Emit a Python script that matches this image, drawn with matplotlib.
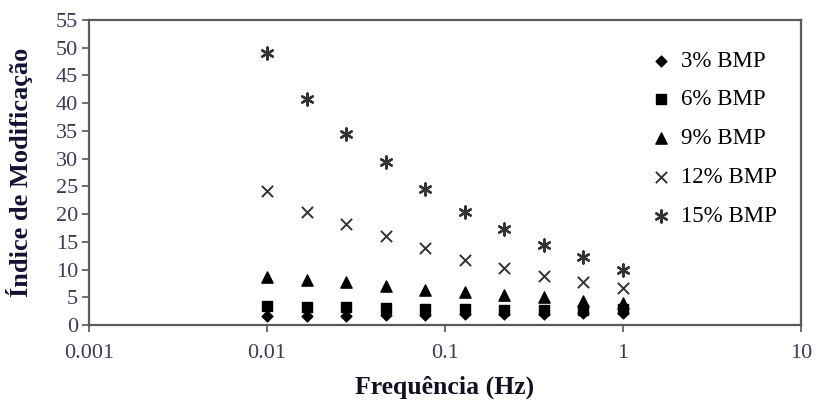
import numpy as np
import matplotlib.pyplot as plt
from matplotlib.ticker import FixedLocator, NullLocator, FuncFormatter

# frequency sweep (Hz)
freq = [0.01, 0.0167, 0.0278, 0.0464, 0.0774, 0.129, 0.215, 0.359, 0.599, 1.0]

bmp3 = [1.6, 1.7, 1.7, 1.8, 1.8, 1.9, 1.9, 2.0, 2.1, 2.2]
bmp6 = [3.5, 3.3, 3.2, 3.0, 2.9, 2.8, 2.7, 2.7, 2.7, 2.8]
bmp9 = [8.6, 8.1, 7.7, 7.0, 6.4, 6.0, 5.4, 5.0, 4.4, 4.0]
bmp12 = [24.2, 20.4, 18.2, 16.0, 13.8, 11.8, 10.3, 8.9, 7.7, 6.6]
bmp15 = [49.1, 40.7, 34.4, 29.4, 24.6, 20.3, 17.4, 14.4, 12.3, 10.0]

labels = ['3% BMP', '6% BMP', '9% BMP', '12% BMP', '15% BMP']
xticks = [0.001, 0.01, 0.1, 1, 10]
xtick_labels = ['0.001', '0.01', '0.1', '1', '10']

plt.rcParams['font.family'] = ['Liberation Serif', 'DejaVu Serif']

fig = plt.figure(figsize=(8.19, 4.04), dpi=100)
ax = fig.add_axes([89 / 819, 1 - 325 / 404, 712 / 819, 305 / 404])

ax.scatter(freq, bmp3, marker='D', s=30, color='black', label=labels[0], zorder=3)
ax.scatter(freq, bmp6, marker='s', s=60, color='black', label=labels[1], zorder=3)
ax.scatter(freq, bmp9, marker='^', s=65, color='black', label=labels[2], zorder=3)
ax.scatter(freq, bmp12, marker='x', s=65, color='#333333', linewidths=1.4, label=labels[3], zorder=3)
ax.scatter(freq, bmp15, marker=(6, 2, 0), s=75, color='#333333', linewidths=1.7, label=labels[4], zorder=3)

ax.set_xscale('log')
ax.set_xlim(0.001, 10)
ax.set_ylim(0, 55)
ax.xaxis.set_major_locator(FixedLocator(xticks))
ax.xaxis.set_minor_locator(NullLocator())
ax.xaxis.set_major_formatter(FuncFormatter(lambda v, p: xtick_labels[xticks.index(v)] if v in xticks else ''))
ax.set_yticks(np.arange(0, 56, 5))

tick_color = '#3c3c55'
ax.tick_params(axis='both', direction='out', length=5, width=1.2, color='#555555',
               labelsize=16, labelcolor=tick_color)
ax.tick_params(axis='x', pad=9)
ax.tick_params(axis='y', pad=3)
for s in ax.spines.values():
    s.set_color('#5a5a5a')
    s.set_linewidth(1.6)

ax.set_xlabel('Frequência (Hz)', fontsize=18.5, fontweight='bold', color='#111122', labelpad=9)
ax.set_ylabel('Índice de Modificação', fontsize=19, fontweight='bold', color='#111133', labelpad=16)

leg = ax.legend(loc='upper right', bbox_to_anchor=(0.985, 0.945), frameon=False, fontsize=16.5,
                labelspacing=0.78, handletextpad=0.25, handlelength=1.2, borderaxespad=0.2)

plt.savefig('out.png', dpi=100)
